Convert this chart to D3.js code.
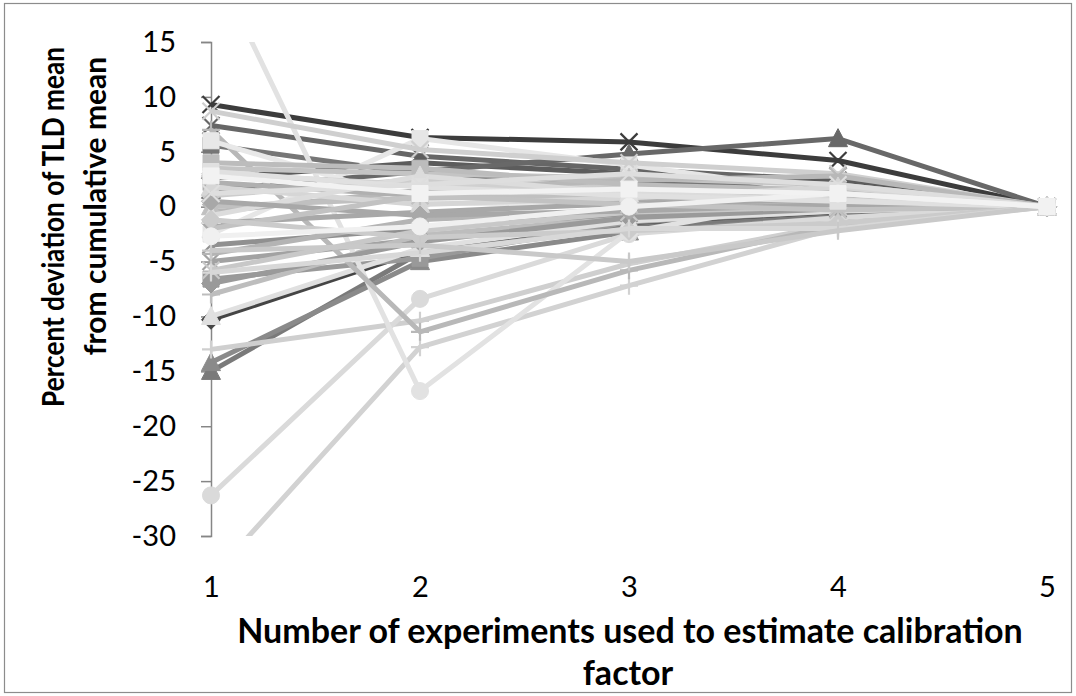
<!DOCTYPE html>
<html>
<head>
<meta charset="utf-8">
<script src="https://cdn.jsdelivr.net/npm/d3@7"></script>
<style>
  html, body { margin: 0; padding: 0; background: #fff; }
  svg { display: block; }
  text { font-family: Lato, "Open Sans", "Liberation Sans", sans-serif; fill: #000; }
</style>
</head>
<body>
<svg id="chart" width="1076" height="696"></svg>
<script>
// Number of experiments used (category axis)
const experiments = [1, 2, 3, 4, 5];
const yTicks = [15, 10, 5, 0, -5, -10, -15, -20, -25, -30];

// Percent deviation of each TLD mean from the cumulative mean, one array per TLD
const tld01 = [9.3, 6.3, 5.9, 4.2, 0];
const tld02 = [7.4, 4.6, 3.4, 2.4, 0];
const tld03 = [5.6, 3.0, 2.2, 1.6, 0];
const tld04 = [2.6, 4.0, 3.0, 2.3, 0];
const tld05 = [1.5, 3.2, 4.8, 6.2, 0];
const tld06 = [-10.3, -4.0, -1.6, -0.6, 0];
const tld07 = [-15.0, -4.2, -1.9, -0.9, 0];
const tld08 = [-14.2, -5.0, -2.3, -1.0, 0];
const tld09 = [-6.6, -4.7, -1.4, -0.4, 0];
const tld10 = [-5.0, -3.0, -0.8, 0.2, 0];
const tld11 = [-8.0, -2.6, -1.0, -0.3, 0];
const tld12 = [-10.0, -3.8, -1.3, -0.4, 0];
const tld13 = [-13.0, -10.4, -5.2, -1.6, 0];
const tld14 = [-26.3, -8.4, -2.5, -1.0, 0];
const tld15 = [-33.8, -12.8, -7.2, -1.9, 0];
const tld16 = [22.7, -16.8, -2.3, 1.0, 0];
const tld17 = [7.0, -11.4, -5.8, -1.7, 0];
const tld18 = [-2.5, 6.2, 3.8, 1.2, 0];
const tld19 = [6.0, 0.4, 0.0, 0.4, 0];
const tld20 = [8.7, 5.2, 4.0, 3.0, 0];
const tld21 = [3.5, 3.0, 2.6, 2.0, 0];
const tld22 = [1.0, 2.5, 1.8, 1.2, 0];
const tld23 = [-0.5, 1.5, 2.4, 2.8, 0];
const tld24 = [3.0, 2.0, 1.5, 1.0, 0];
const tld25 = [2.2, 1.0, 0.6, 0.4, 0];
const tld26 = [0.0, 0.8, 1.0, 0.8, 0];
const tld27 = [-1.5, -0.5, 0.3, 0.5, 0];
const tld28 = [-3.5, -2.0, -0.6, -0.2, 0];
const tld29 = [-4.3, -1.2, -0.3, 0.3, 0];
const tld30 = [-7.0, -3.2, -1.0, -0.2, 0];
const tld31 = [-5.8, -2.2, -0.5, 0.0, 0];
const tld32 = [4.0, 3.5, 2.0, 1.5, 0];
const tld33 = [1.8, 0.2, 0.8, 1.8, 0];
const tld34 = [-0.8, 2.8, 1.2, 0.6, 0];
const tld35 = [0.5, -0.8, -0.4, 0.2, 0];
const tld36 = [-2.0, 1.0, 0.2, -0.3, 0];
const tld37 = [3.2, 1.8, 1.0, 0.5, 0];
const tld38 = [-1.2, -2.8, -2.2, -1.5, 0];
const tld39 = [-6.0, -4.2, -2.0, -2.0, 0];
const tld40 = [-4.0, -3.5, -5.0, -2.2, 0];
const tld41 = [1.2, 2.0, 3.0, 2.0, 0];
const tld42 = [-2.7, -1.8, 0.0, 1.2, 0];
const tld43 = [2.8, 1.2, 1.6, 1.2, 0];

const allTLD = [tld01, tld02, tld03, tld04, tld05, tld06, tld07, tld08, tld09, tld10,
  tld11, tld12, tld13, tld14, tld15, tld16, tld17, tld18, tld19, tld20,
  tld21, tld22, tld23, tld24, tld25, tld26, tld27, tld28, tld29, tld30,
  tld31, tld32, tld33, tld34, tld35, tld36, tld37, tld38, tld39, tld40,
  tld41, tld42, tld43];

// Grey shade and marker shape for each series, in drawing order
const seriesGrey = ["#3c3c3c", "#666666", "#767676", "#5c5c5c", "#686868", "#454545", "#7a7a7a",
  "#8a8a8a", "#999999", "#a2a2a2", "#bdbdbd", "#e0e0e0", "#cfcfcf", "#dadada", "#d2d2d2",
  "#e2e2e2", "#b8b8b8", "#e6e6e6", "#e8e8e8", "#cfcfcf", "#c4c4c4", "#cccccc", "#b8b8b8",
  "#d0d0d0", "#b0b0b0", "#c0c0c0", "#a8a8a8", "#909090", "#b4b4b4", "#9a9a9a", "#c8c8c8",
  "#bcbcbc", "#d6d6d6", "#dcdcdc", "#a8a8a8", "#c2c2c2", "#e0e0e0", "#cbcbcb", "#d8d8d8",
  "#c9c9c9", "#dedede", "#f0f0f0", "#f2f2f2"];
const seriesMarker = ["times", "times", "square", "diamond", "triangle", "diamond", "triangle",
  "triangle", "square", "star", "plus", "triangle", "plus", "circle", "plus",
  "circle", "plus", "square", "square", "times", "triangle", "diamond", "times",
  "diamond", "square", "triangle", "diamond", "star", "plus", "diamond", "star",
  "square", "triangle", "triangle", "diamond", "star", "square", "diamond", "plus",
  "plus", "times", "circle", "square"];

const svg = d3.select("#chart");

// Outer chart frame
svg.append("rect")
  .attr("x", 4.5).attr("y", 3.5).attr("width", 1067).attr("height", 689)
  .attr("fill", "#fff").attr("stroke", "#8c8c8c").attr("stroke-width", 1.2);

const x = d3.scalePoint().domain(experiments).range([211, 1047]);
const y = d3.scaleLinear().domain([-30, 15]).range([536, 42]);

// Vertical axis
const yAxis = svg.append("g")
  .attr("transform", "translate(211,0)")
  .call(d3.axisLeft(y).tickValues(yTicks).tickSize(10).tickPadding(25).tickFormat(d3.format("d")));
yAxis.select(".domain").attr("stroke", "#868686").attr("stroke-width", 1.5);
yAxis.selectAll(".tick line").attr("stroke", "#868686").attr("stroke-width", 1.5);
yAxis.selectAll(".tick text")
  .style("font-size", "29px").style("font-family", "Lato, sans-serif").attr("fill", "#000")
  .text(d => d < 0 ? "-" + Math.abs(d) : d);

// Category labels
const xAxis = svg.append("g")
  .attr("transform", "translate(0,536)")
  .call(d3.axisBottom(x).tickSize(0).tickPadding(40));
xAxis.select(".domain").remove();
xAxis.selectAll(".tick text")
  .style("font-size", "29px").style("font-family", "Lato, sans-serif").attr("fill", "#000");

// Plot clip
svg.append("clipPath").attr("id", "plotClip")
  .append("rect").attr("x", 150).attr("y", 42).attr("width", 926).attr("height", 494);

const line = d3.line()
  .x((d, i) => x(experiments[i]))
  .y(d => y(d));

// Marker shapes
const R = 8.5;
const markerPath = {
  circle: () => d3.symbol(d3.symbolCircle, Math.PI * R * R)(),
  square: () => { const h = 8; return `M${-h},${-h}H${h}V${h}H${-h}Z`; },
  diamond: () => { const h = 9.5; return `M0,${-h}L${h},0L0,${h}L${-h},0Z`; },
  triangle: () => { const h = 9.5; return `M0,${-h * 1.05}L${h},${h * 0.85}L${-h},${h * 0.85}Z`; },
  times: () => { const h = 8.5; return `M${-h},${-h}L${h},${h}M${h},${-h}L${-h},${h}`; },
  star: () => { const h = 8.5; return `M${-h},${-h}L${h},${h}M${h},${-h}L${-h},${h}M0,${-h - 1}V${h + 1}`; },
  plus: () => { const h = 9; return `M${-h},0H${h}M0,${-h}V${h}`; }
};
const strokedOnly = new Set(["times", "star", "plus"]);

const plot = svg.append("g").attr("clip-path", "url(#plotClip)");

allTLD.forEach((vals, si) => {
  const grey = seriesGrey[si];
  const shape = seriesMarker[si];
  const g = plot.append("g");
  g.append("path")
    .attr("d", line(vals))
    .attr("fill", "none")
    .attr("stroke", grey)
    .attr("stroke-width", 5)
    .attr("stroke-linejoin", "round");
  g.selectAll("path.mk")
    .data(vals)
    .join("path")
    .attr("class", "mk")
    .attr("transform", (d, i) => `translate(${x(experiments[i])},${y(d)})`)
    .attr("d", markerPath[shape]())
    .attr("fill", strokedOnly.has(shape) ? "none" : grey)
    .attr("stroke", grey)
    .attr("stroke-width", strokedOnly.has(shape) ? 2.2 : 1);
});

// Vertical axis title: two lines, narrowed horizontally to a set run length
function verticalTitle(str, cx, cy, runLength) {
  const t = svg.append("text")
    .attr("text-anchor", "middle")
    .style("font-size", "30px").style("font-weight", "bold")
    .text(str);
  const natural = t.node().getComputedTextLength();
  const k = Math.min(1, runLength / natural);
  t.attr("transform", `translate(${cx},${cy}) rotate(-90) scale(${k},1)`);
}
verticalTitle("Percent deviation of TLD mean", 64, 227, 360);
verticalTitle("from cumulative mean", 106, 206, 305);

svg.append("text")
  .attr("x", 630).attr("y", 643)
  .attr("text-anchor", "middle")
  .style("font-size", "34px").style("font-weight", "bold")
  .text("Number of experiments used to estimate calibration");
svg.append("text")
  .attr("x", 628).attr("y", 685)
  .attr("text-anchor", "middle")
  .style("font-size", "34px").style("font-weight", "bold")
  .text("factor");
</script>
</body>
</html>
